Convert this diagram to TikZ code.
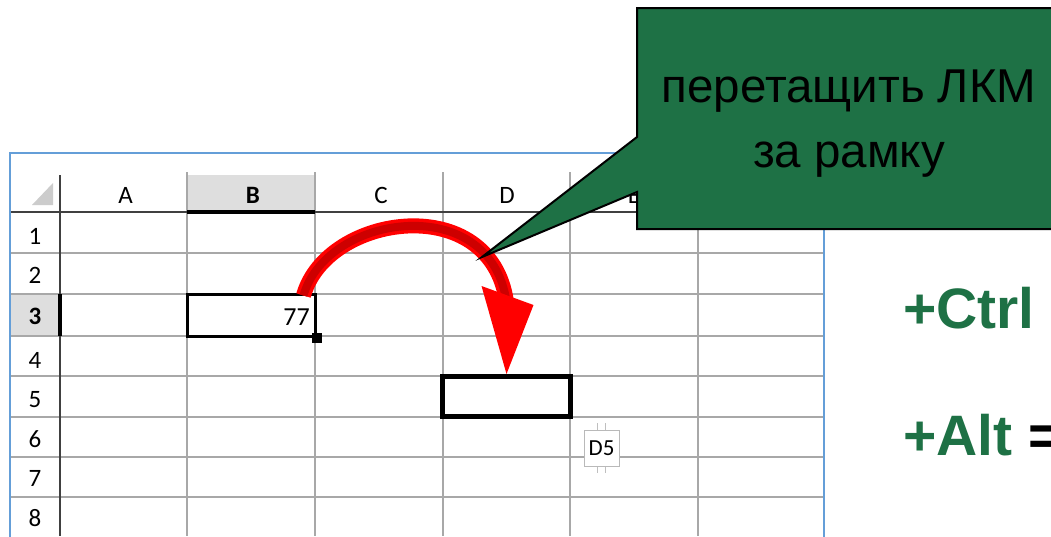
\documentclass[tikz,border=0pt]{standalone}
\usepackage{fontspec}
\setmainfont{Liberation Sans}
\newfontfamily\calibri{Carlito}
\usetikzlibrary{calc}
\definecolor{xlgreen}{RGB}{30,113,69}
\definecolor{xlblue}{RGB}{100,158,216}
\definecolor{xlgrid}{RGB}{168,168,168}
\definecolor{xlhead}{RGB}{222,222,222}
\definecolor{darkred}{RGB}{205,0,0}
\tikzset{
  gridline/.style={xlgrid,line width=1.6pt},
  headline/.style={black!75,line width=1.6pt},
  sheetlabel/.style={font=\calibri\fontsize{25}{25}\selectfont,inner sep=0pt},
  cellbox/.style={draw,inner sep=0pt,minimum width=128pt},
  calltext/.style={anchor=base,inner sep=0pt,font=\fontsize{47.5}{52}\selectfont},
  keytext/.style={anchor=base west,inner sep=0pt,text=xlgreen,font=\bfseries\fontsize{57}{60}\selectfont}
}

\begin{document}
\begin{tikzpicture}[x=1pt,y=-1pt]
  \useasboundingbox (0,0) rectangle (1051,536);
  \clip (0,0) rectangle (1051,536);
  \fill[white] (0,0) rectangle (1051,536);
  \fill[xlhead] (187,175) rectangle (315,212);
  \fill[xlhead] (10,294) rectangle (60,336);
  \fill[gray!40] (32,205) -- (53,205) -- (53,183) -- cycle;
  \draw[gridline] (10,253) -- (824,253);
  \draw[gridline] (10,294) -- (824,294);
  \draw[gridline] (10,336) -- (824,336);
  \draw[gridline] (10,376) -- (824,376);
  \draw[gridline] (10,417) -- (824,417);
  \draw[gridline] (10,457) -- (824,457);
  \draw[gridline] (10,497) -- (824,497);
  \draw[gridline] (187,172) -- (187,536);
  \draw[gridline] (315,172) -- (315,536);
  \draw[gridline] (443,172) -- (443,536);
  \draw[gridline] (570,172) -- (570,536);
  \draw[gridline] (698,172) -- (698,536);
  \draw[headline] (10,212) -- (824,212);
  \draw[headline] (60,175) -- (60,536);
  \draw[line width=4pt] (187,212) -- (315,212);
  \draw[line width=4pt] (60,294) -- (60,336);
  \draw[xlblue,line width=2pt] (10,540) -- (10,153) -- (824,153) -- (824,540);
  \node[sheetlabel] (colA) at (125.5,195) {A};
  \node[sheetlabel] (colB) at (253,195) {\bfseries B};
  \node[sheetlabel] (colC) at (381,195) {C};
  \node[sheetlabel] (colD) at (507,195) {D};
  \node[sheetlabel] (colE) at (634,195) {E};
  \node[sheetlabel] (row1) at (35,236) {1};
  \node[sheetlabel] (row2) at (35,275.5) {2};
  \node[sheetlabel] (row3) at (35,316) {\bfseries 3};
  \node[sheetlabel] (row4) at (35,360) {4};
  \node[sheetlabel] (row5) at (35,399.5) {5};
  \node[sheetlabel] (row6) at (35,439) {6};
  \node[sheetlabel] (row7) at (35,478.5) {7};
  \node[sheetlabel] (row8) at (35,518) {8};
  \node[cellbox,line width=3pt,minimum height=42pt] (B3) at (251,315) {};
  \node[sheetlabel,anchor=base east,font=\calibri\fontsize{26}{26}\selectfont] (val) at (310,325) {77};
  \node[fill,inner sep=0pt,minimum size=10pt] (handle) at (B3.south east) {};
  \node[cellbox,line width=5pt,minimum height=40pt] (D5) at (506.5,396.5) {};
  \draw[gray!50,line width=1pt] (597,423) -- (597,430) (605,423) -- (605,430);
  \draw[gray!50,line width=1pt] (597,466) -- (597,473) (605,466) -- (605,473);
  \node[draw=gray!55,fill=white,line width=1pt,inner sep=0pt,minimum width=35pt,minimum height=36pt,font=\calibri\fontsize{23}{23}\selectfont] (addr) at (601.5,448) {D5};
  \coordinate (arrstart) at ($(B3.north east)+(-13,3)$);
  \coordinate (arrbase) at ($(D5.north)+(0,-72)$);
  \draw[red,line width=15pt] (arrstart) .. controls +(23,-82) and +(-16,-112) .. (arrbase);
  \draw[darkred,line width=8pt] (arrstart) .. controls +(23,-82) and +(-16,-112) .. (arrbase);
  \fill[red] ($(D5.north)+(-25,-88)$) -- (D5.north) -- ($(D5.north)+(27,-69)$) -- cycle;
  \filldraw[fill=xlgreen,draw=black,line width=2pt] (637,8) -- (1070,8) -- (1070,229) -- (637,229)
    -- (637,192) -- (482,257) -- (637,137) -- cycle;
  \node[calltext] (hint1) at (849,102) {перетащить ЛКМ};
  \node[calltext] (hint2) at (849,167) {за рамку};
  \node[keytext] (ctrl) at (903,328) {+Ctrl};
  \node[keytext] (alt) at (903,455) {+Alt \textcolor{black}{=}};
\end{tikzpicture}
\end{document}
